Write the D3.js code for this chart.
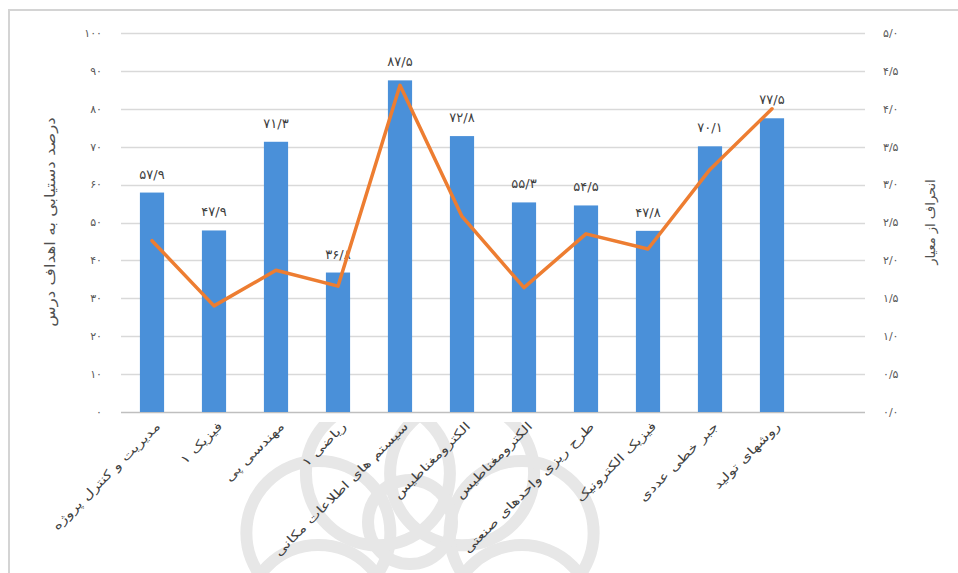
<!DOCTYPE html>
<html>
<head>
<meta charset="utf-8">
<script src="https://cdn.jsdelivr.net/npm/d3@7/dist/d3.min.js"></script>
<style>
  html, body { margin: 0; padding: 0; background: #ffffff; }
  svg { display: block; font-family: "DejaVu Sans", "Noto Sans", sans-serif; }
</style>
</head>
<body>
<svg id="chart" width="958" height="573"></svg>
<script>
// Course names (x categories)
const categories = [
  "مدیریت و کنترل پروژه",
  "فیزیک ۱",
  "مهندسی پی",
  "ریاضی ۱",
  "سیستم های اطلاعات مکانی",
  "الکترومغناطیس",
  "الکترومغناطیس",
  "طرح ریزی واحدهای صنعتی",
  "فیزیک الکترونیک",
  "جبر خطی عددی",
  "روشهای تولید"
];
// Percentage of course objectives achieved (bars, left axis)
const achievement = [57.9, 47.9, 71.3, 36.8, 87.5, 72.8, 55.3, 54.5, 47.8, 70.1, 77.5];
// Standard deviation (line, right axis)
const stdDev = [2.26, 1.40, 1.87, 1.66, 4.31, 2.58, 1.64, 2.35, 2.15, 3.20, 4.00];
// Axis ticks
const leftTicks = [0, 10, 20, 30, 40, 50, 60, 70, 80, 90, 100];
const rightTicks = [0, 0.5, 1, 1.5, 2, 2.5, 3, 3.5, 4, 4.5, 5];
const leftTitle = "درصد دستیابی به اهداف درس";
const rightTitle = "انحراف از معیار";

// Persian digits with "/" as decimal separator
const faDigits = "۰۱۲۳۴۵۶۷۸۹";
function fa(str) {
  return String(str).replace(/[0-9]/g, d => faDigits[+d]).replace(/\./g, "/");
}

const svg = d3.select("#chart");

const plot = { left: 121, right: 865, top: 33, bottom: 412 };

const x = d3.scaleBand()
  .domain(d3.range(categories.length))
  .range([plot.left, plot.left + 62 * categories.length])
  .paddingInner(0.61)
  .paddingOuter(0.305);
const yL = d3.scaleLinear().domain([0, 100]).range([plot.bottom, plot.top]);
const yR = d3.scaleLinear().domain([0, 5]).range([plot.bottom, plot.top]);

// Chart frame
svg.append("rect")
  .attr("x", 9).attr("y", 10)
  .attr("width", 980).attr("height", 600)
  .attr("fill", "#ffffff")
  .attr("stroke", "#d4d4d4").attr("stroke-width", 2);

// Faint emblem behind the category labels
svg.append("defs").append("clipPath").attr("id", "belowAxis")
  .append("rect").attr("x", 0).attr("y", plot.bottom + 10).attr("width", 958).attr("height", 200);
const emblem = svg.append("g")
  .attr("fill", "none")
  .attr("stroke", "#e7e7e7")
  .attr("stroke-width", 12)
  .attr("clip-path", "url(#belowAxis)");
const ec = { x: 420, y: 575 };
d3.range(8).forEach(i => {
  const a = (i * 45 - 90 + 22.5) * Math.PI / 180;
  emblem.append("circle")
    .attr("cx", ec.x + Math.cos(a) * 110)
    .attr("cy", ec.y + Math.sin(a) * 110)
    .attr("r", 72);
});
emblem.append("circle").attr("cx", 410).attr("cy", 522).attr("r", 42);

// Gridlines
svg.append("g")
  .selectAll("line")
  .data(leftTicks)
  .join("line")
  .attr("x1", plot.left).attr("x2", plot.right)
  .attr("y1", d => Math.round(yL(d)) + 0.5)
  .attr("y2", d => Math.round(yL(d)) + 0.5)
  .attr("stroke", d => d === 0 ? "#bfbfbf" : "#d9d9d9")
  .attr("stroke-width", 1.3);

// Left axis labels
svg.append("g")
  .selectAll("text")
  .data(leftTicks)
  .join("text")
  .attr("x", 102)
  .attr("y", d => yL(d))
  .attr("dy", "0.35em")
  .attr("text-anchor", "end")
  .attr("font-size", 11)
  .attr("fill", "#595959")
  .text(d => fa(d));

// Right axis labels
svg.append("g")
  .selectAll("text")
  .data(rightTicks)
  .join("text")
  .attr("x", 883)
  .attr("y", d => yR(d))
  .attr("dy", "0.35em")
  .attr("text-anchor", "start")
  .attr("font-size", 11)
  .attr("fill", "#595959")
  .text(d => fa(d.toFixed(1)));

// Axis titles
svg.append("text")
  .attr("transform", `translate(50, 222) rotate(-90) scale(1.2, 1)`)
  .attr("text-anchor", "middle")
  .attr("dy", "0.35em")
  .attr("font-size", 14)
  .attr("fill", "#505050")
  .text(leftTitle);
svg.append("text")
  .attr("transform", `translate(930, 222) rotate(-90)`)
  .attr("text-anchor", "middle")
  .attr("dy", "0.35em")
  .attr("font-size", 13)
  .attr("fill", "#505050")
  .text(rightTitle);

// Bars
svg.append("g")
  .selectAll("rect")
  .data(achievement)
  .join("rect")
  .attr("x", (d, i) => x(i))
  .attr("y", d => yL(d))
  .attr("width", x.bandwidth())
  .attr("height", d => yL(0) - yL(d))
  .attr("fill", "#4a90d9");

// Bar value labels
svg.append("g")
  .selectAll("text")
  .data(achievement)
  .join("text")
  .attr("x", (d, i) => x(i) + x.bandwidth() / 2)
  .attr("y", d => yL(d) - 14)
  .attr("text-anchor", "middle")
  .attr("font-size", 13)
  .attr("fill", "#404040")
  .text(d => fa(d.toFixed(1)));

// Standard deviation line
svg.append("path")
  .datum(stdDev)
  .attr("fill", "none")
  .attr("stroke", "#ed7d31")
  .attr("stroke-width", 3.5)
  .attr("stroke-linejoin", "round")
  .attr("stroke-linecap", "round")
  .attr("d", d3.line()
    .x((d, i) => x(i) + x.bandwidth() / 2)
    .y(d => yR(d)));

// Category labels, rotated and widened along the text direction
svg.append("g")
  .selectAll("text")
  .data(categories)
  .join("text")
  .attr("transform", (d, i) => `translate(${x(i) + x.bandwidth() / 2 + 9}, ${plot.bottom + 15}) rotate(-45) scale(1.32, 1)`)
  .attr("text-anchor", "end")
  .attr("font-size", 12)
  .attr("fill", "#404040")
  .text(d => d);
</script>
</body>
</html>
